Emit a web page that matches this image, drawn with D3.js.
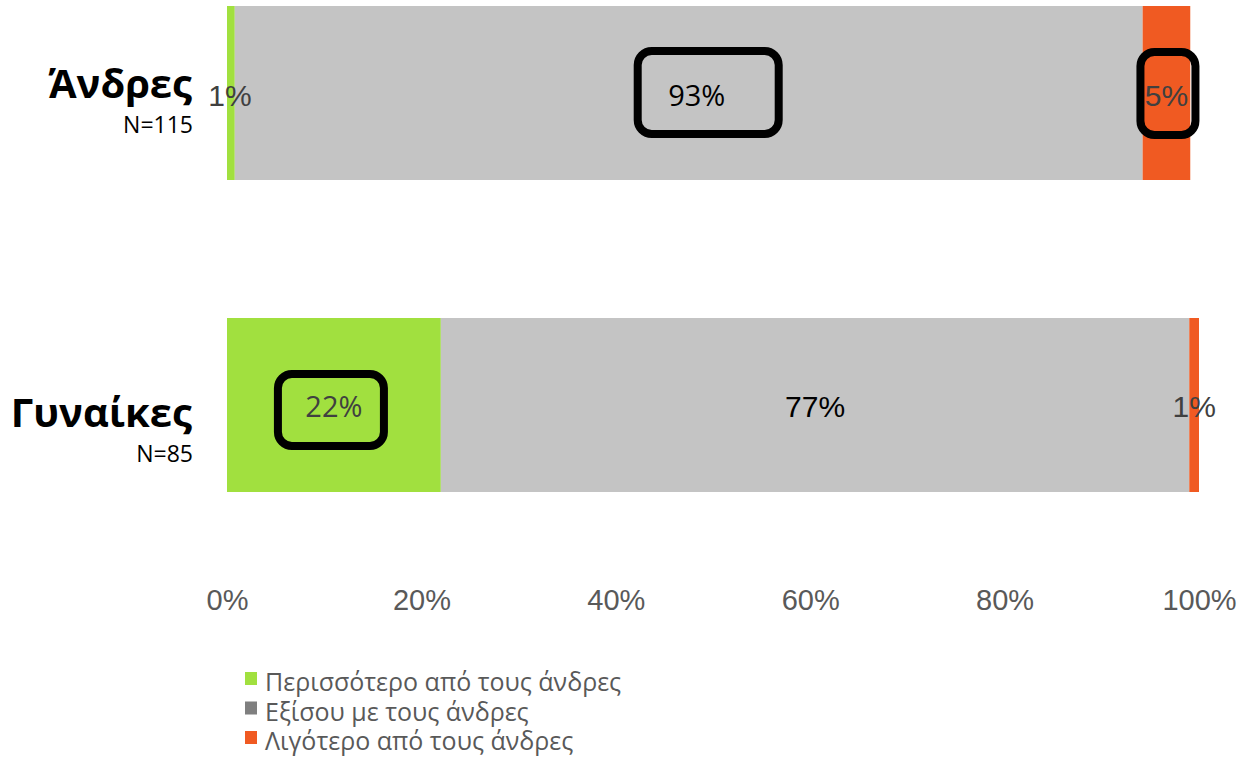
<!DOCTYPE html>
<html>
<head>
<meta charset="utf-8">
<script src="https://cdn.jsdelivr.net/npm/d3@7"></script>
<style>
  body { margin: 0; background: #fff; }
  svg { display: block; }
</style>
</head>
<body>
<svg id="chart" width="1245" height="757"></svg>
<script>
// data
var groups = ["Άνδρες", "Γυναίκες"];
var sampleSizes = ["N=115", "N=85"];
var seriesNames = ["Περισσότερο από τους άνδρες", "Εξίσου με τους άνδρες", "Λιγότερο από τους άνδρες"];
var seriesColors = ["#a1e03f", "#c4c4c4", "#f05a22"];
var legendColors = ["#a1e03f", "#7f7f7f", "#f05a22"];
var more = [0.8, 22.0];
var equal = [93.4, 77.0];
var less = [4.9, 1.0];
var ticks = [0, 20, 40, 60, 80, 100];
// which labels get a rounded box [groupIndex, seriesIndex]
var boxed = [[0, 1], [0, 2], [1, 0]];

var svg = d3.select("#chart");

var x = d3.scaleLinear().domain([0, 100]).range([227, 1199]);
var y = d3.scaleBand().domain(groups).range([6, 492]).paddingInner(0.4423).paddingOuter(0);

var rows = groups.map(function(g, i) {
    return { group: g, n: sampleSizes[i], values: [more[i], equal[i], less[i]] };
});

var segs = [];
rows.forEach(function(r, gi) {
    var start = 0;
    r.values.forEach(function(v, si) {
        segs.push({ group: r.group, gi: gi, si: si, x0: start, x1: start + v, v: v });
        start += v;
    });
});

svg.selectAll("rect.seg")
    .data(segs)
    .enter()
    .append("rect")
    .attr("class", "seg")
    .attr("x", d => x(d.x0))
    .attr("y", d => y(d.group))
    .attr("width", d => x(d.x1) - x(d.x0))
    .attr("height", y.bandwidth())
    .attr("fill", d => seriesColors[d.si]);

function isBoxed(d) {
    return boxed.some(b => b[0] === d.gi && b[1] === d.si);
}

function key(d) { return d.gi + "-" + d.si; }

// label nudges (the 93% label sits a bit right of centre)
var labelNudge = { "0-1": 8 };

function labelX(d) {
    if (d.v < 2 && d.si === 0) return x(d.x0) + 3;
    return (x(d.x0) + x(d.x1)) / 2 + (labelNudge[key(d)] || 0);
}
function midY(d) { return y(d.group) + y.bandwidth() / 2; }

// rounded boxes
var boxSize = { "0-1": [141, 83], "0-2": [55, 83], "1-0": [106, 72] };
var boxOffset = { "0-1": [11.5, -0.5], "0-2": [1.5, 0.5], "1-0": [-3, 5] };

svg.selectAll("rect.box")
    .data(segs.filter(isBoxed))
    .enter()
    .append("rect")
    .attr("class", "box")
    .attr("x", d => labelX(d) + boxOffset[key(d)][0] - boxSize[key(d)][0] / 2)
    .attr("y", d => midY(d) + boxOffset[key(d)][1] - boxSize[key(d)][1] / 2)
    .attr("width", d => boxSize[key(d)][0])
    .attr("height", d => boxSize[key(d)][1])
    .attr("rx", 14)
    .attr("fill", "none")
    .attr("stroke", "#000")
    .attr("stroke-width", 8);

svg.selectAll("text.val")
    .data(segs)
    .enter()
    .append("text")
    .attr("class", "val")
    .attr("x", d => labelX(d))
    .attr("y", d => midY(d) + 12.5)
    .attr("text-anchor", "middle")
    .attr("font-family", d => isBoxed(d) && d.si !== 2 ? "'Open Sans', sans-serif" : "'Liberation Sans', Arial, sans-serif")
    .attr("font-size", d => isBoxed(d) && d.si !== 2 ? 29 : 30)
    .attr("fill", d => d.si === 1 ? "#000" : "#404040")
    .text(d => Math.round(d.v) + "%");

// category labels (women's labels sit lower in the original)
var labelShift = [0, 17];

svg.selectAll("text.cat")
    .data(rows)
    .enter()
    .append("text")
    .attr("class", "cat")
    .attr("x", 192)
    .attr("y", (d, i) => y(d.group) + y.bandwidth() / 2 + 5 + labelShift[i])
    .attr("text-anchor", "end")
    .attr("font-family", "'Open Sans', sans-serif")
    .attr("font-weight", "bold")
    .attr("font-size", 40)
    .attr("fill", "#000")
    .text(d => d.group);

svg.selectAll("text.n")
    .data(rows)
    .enter()
    .append("text")
    .attr("class", "n")
    .attr("x", 193)
    .attr("y", (d, i) => y(d.group) + y.bandwidth() / 2 + 40 + labelShift[i])
    .attr("text-anchor", "end")
    .attr("font-family", "'Open Sans', sans-serif")
    .attr("font-size", 23)
    .attr("fill", "#000")
    .text(d => d.n);

// x axis, labels only
var axis = svg.append("g")
    .attr("transform", "translate(0,589)")
    .call(d3.axisBottom(x).tickValues(ticks).tickFormat(d => d + "%").tickSize(0));
axis.select(".domain").remove();
axis.selectAll("text")
    .attr("font-family", "'Liberation Sans', Arial, sans-serif")
    .attr("font-size", 29)
    .attr("fill", "#595959")
    .attr("dy", "0.71em")
    .attr("y", 0);

// legend
var legend = svg.selectAll("g.leg")
    .data(seriesNames)
    .enter()
    .append("g")
    .attr("class", "leg")
    .attr("transform", (d, i) => "translate(245," + (672 + i * 29.5) + ")");
legend.append("rect")
    .attr("width", 12)
    .attr("height", 13)
    .attr("fill", (d, i) => legendColors[i]);
legend.append("text")
    .attr("x", 20)
    .attr("y", 19)
    .attr("font-family", "'Open Sans', sans-serif")
    .attr("font-size", 25)
    .attr("fill", "#595959")
    .text(d => d);
</script>
</body>
</html>
